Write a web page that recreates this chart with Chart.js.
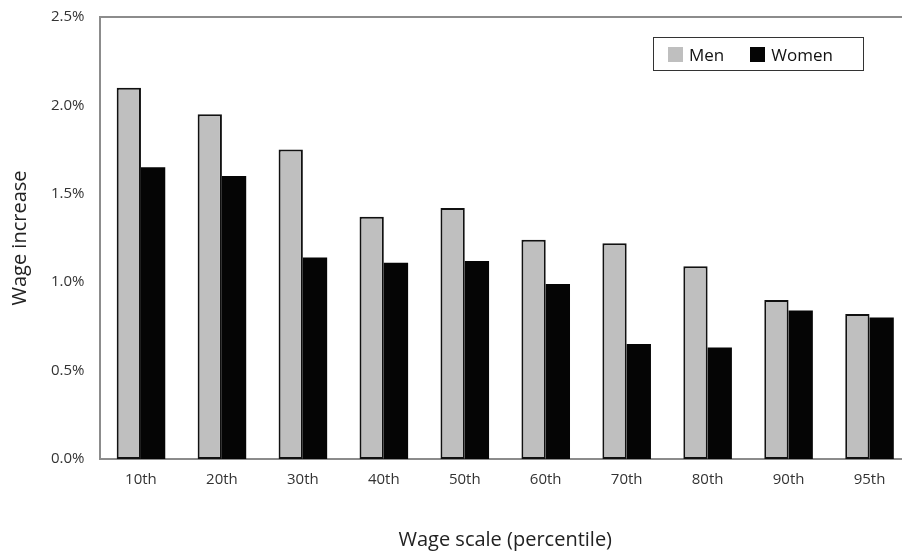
<!DOCTYPE html>
<html>
<head>
<meta charset="utf-8">
<script src="https://cdn.jsdelivr.net/npm/chart.js@4"></script>
<style>
  html, body { margin: 0; padding: 0; background: #fff; overflow: hidden; }
  #wrap { position: relative; width: 912px; height: 552px; }
  #legend {
    position: absolute; left: 653px; top: 37px; width: 209px; height: 32px;
    border: 1px solid #333; box-sizing: content-box;
    font-family: "Open Sans", sans-serif; font-size: 17px; color: #111;
    display: flex; align-items: center;
  }
  #legend span.item { display: flex; align-items: center; margin-left: 14px; margin-right: 12px; }
  #legend span.sw { display: inline-block; width: 15px; height: 15px; margin-right: 6px; }
</style>
</head>
<body>
<div id="wrap">
  <canvas id="c" width="912" height="552"></canvas>
  <div id="legend"></div>
</div>
<script>
// data
const percentiles = ['10th', '20th', '30th', '40th', '50th', '60th', '70th', '80th', '90th', '95th'];
const menIncrease = [2.10, 1.95, 1.75, 1.37, 1.42, 1.24, 1.22, 1.09, 0.90, 0.82];
const womenIncrease = [1.65, 1.60, 1.14, 1.11, 1.12, 0.99, 0.65, 0.63, 0.84, 0.80];
const yTicks = [0, 0.5, 1.0, 1.5, 2.0, 2.5];

const seriesColors = { Men: '#bfbfbf', Women: '#050505' };

// top frame line
const frameTop = {
    id: 'frameTop',
    afterDraw(chart) {
        const { ctx, chartArea } = chart;
        ctx.save();
        ctx.strokeStyle = '#8c8c8c';
        ctx.lineWidth = 2;
        ctx.beginPath();
        ctx.moveTo(chartArea.left, chartArea.top);
        ctx.lineTo(chartArea.right, chartArea.top);
        ctx.stroke();
        ctx.restore();
    }
};

const chart = new Chart(document.getElementById('c'), {
    type: 'bar',
    data: {
        labels: percentiles,
        datasets: [
            { label: 'Men', data: menIncrease, backgroundColor: seriesColors.Men, borderColor: '#111', borderWidth: 2, borderSkipped: false },
            { label: 'Women', data: womenIncrease, backgroundColor: seriesColors.Women, borderWidth: 0 }
        ]
    },
    options: {
        responsive: false,
        animation: false,
        layout: { autoPadding: false, padding: { top: 10, right: 2, left: 4, bottom: 0 } },
        plugins: { legend: { display: false }, tooltip: { enabled: false } },
        datasets: { bar: { categoryPercentage: 0.6, barPercentage: 1.0 } },
        scales: {
            x: {
                grid: { display: false },
                border: { color: '#8c8c8c', width: 2 },
                ticks: { color: '#333', font: { family: 'Open Sans', size: 15 }, padding: 4 },
                title: { display: true, text: 'Wage scale (percentile)', color: '#222', font: { family: 'Open Sans', size: 20 }, padding: { top: 35, bottom: 0 } }
            },
            y: {
                min: 0, max: 2.5,
                afterBuildTicks(axis) { axis.ticks = yTicks.map(v => ({ value: v })); },
                grid: { display: false },
                border: { color: '#8c8c8c', width: 2 },
                ticks: { color: '#333', font: { family: 'Open Sans', size: 15 }, padding: 8, callback: v => v.toFixed(1) + '%' },
                title: { display: true, text: 'Wage increase', color: '#222', font: { family: 'Open Sans', size: 20 }, padding: { bottom: 11 } }
            }
        }
    },
    plugins: [frameTop]
});

// boxed legend like the reference
const legendEl = document.getElementById('legend');
chart.data.datasets.forEach(ds => {
    const item = document.createElement('span');
    item.className = 'item';
    item.innerHTML = '<span class="sw" style="background:' + ds.backgroundColor + '"></span>' + ds.label;
    legendEl.appendChild(item);
});
</script>
</body>
</html>
